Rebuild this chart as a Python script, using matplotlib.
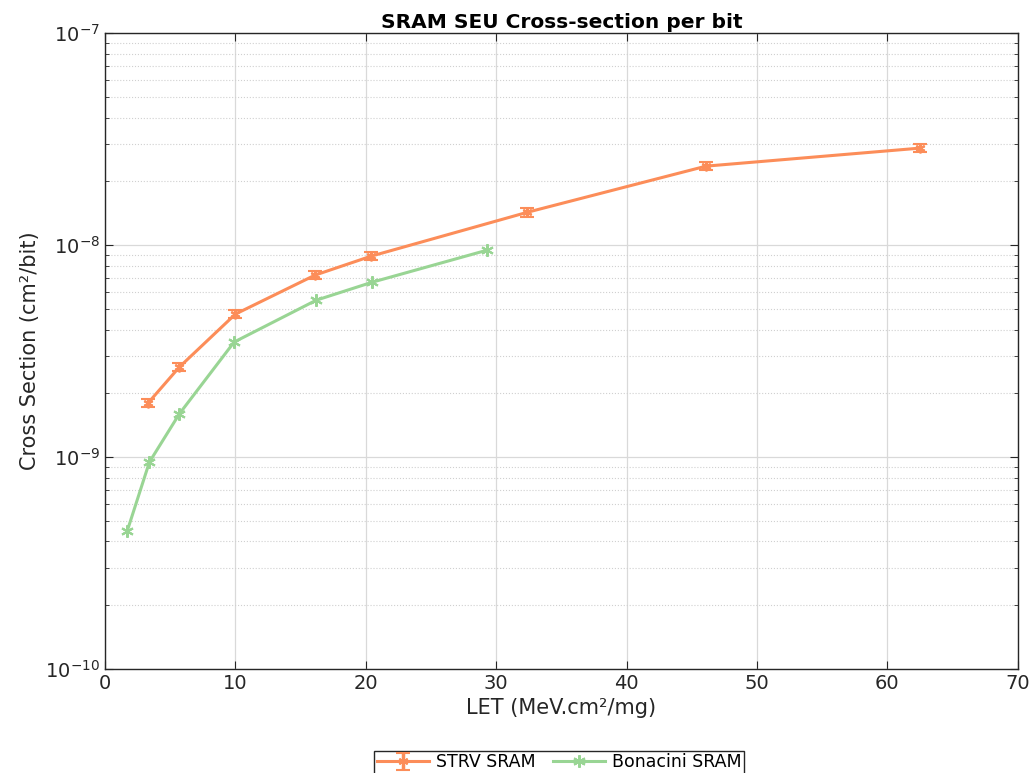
import numpy as np
import matplotlib.pyplot as plt
from matplotlib.ticker import LogLocator, NullFormatter

# data
strv_let = [3.3, 5.7, 10.0, 16.1, 20.4, 32.4, 46.1, 62.5]
strv_xs = [1.80e-9, 2.66e-9, 4.73e-9, 7.22e-9, 8.87e-9, 1.43e-8, 2.36e-8, 2.87e-8]
strv_err = [0.08e-9, 0.12e-9, 0.22e-9, 0.33e-9, 0.40e-9, 0.65e-9, 1.05e-9, 1.3e-9]

bon_let = [1.7, 3.4, 5.7, 9.9, 16.2, 20.5, 29.3]
bon_xs = [4.48e-10, 9.47e-10, 1.60e-9, 3.49e-9, 5.50e-9, 6.69e-9, 9.47e-9]

orange = '#fc8d59'
green = '#99d594'
asterisk = (6, 2, 0)

fig = plt.figure(figsize=(10.3, 7.73), dpi=100)
ax = fig.add_axes([0.102, 0.1345, 0.886, 0.8225])

h1 = ax.errorbar(strv_let, strv_xs, yerr=strv_err, color=orange, lw=2.2,
                 marker=asterisk, ms=7, mew=1.5, capsize=5, capthick=2.5,
                 elinewidth=2.5, label='STRV SRAM')
h2, = ax.plot(bon_let, bon_xs, color=green, lw=2.2, marker=asterisk, ms=9,
              mew=1.5, label='Bonacini SRAM')

ax.set_yscale('log')
ax.set_xlim(0, 70)
ax.set_ylim(1e-10, 1e-7)
ax.set_xticks(range(0, 71, 10))
ax.yaxis.set_minor_locator(LogLocator(base=10, subs=np.arange(2, 10)))
ax.yaxis.set_minor_formatter(NullFormatter())

ax.grid(True, which='major', color='#d9d9d9', lw=0.9, ls='-')
ax.grid(True, which='minor', axis='y', color='#d0d0d0', lw=0.8, ls=':')
ax.set_axisbelow(True)

ax.tick_params(which='both', direction='in', top=True, right=True,
               labelsize=14, colors='#262626')
ax.tick_params(which='major', length=6)
ax.tick_params(which='minor', length=3)
for sp in ax.spines.values():
    sp.set_color('#262626')
    sp.set_linewidth(1.0)

ax.set_title('SRAM SEU Cross-section per bit', fontsize=14.5, fontweight='bold', pad=4)
ax.set_xlabel('LET (MeV.cm²/mg)', fontsize=15, color='#262626')
ax.set_ylabel('Cross Section (cm²/bit)', fontsize=15, color='#262626')

leg = fig.legend([h1, h2], ['STRV SRAM', 'Bonacini SRAM'],
                 loc='upper center', bbox_to_anchor=(0.543, 0.04), ncol=2,
                 fontsize=12.5, fancybox=False, edgecolor='#262626',
                 handlelength=3, columnspacing=1.0, handletextpad=0.4,
                 borderpad=0.15, framealpha=1)
leg.get_frame().set_linewidth(1.0)

fig.savefig('out.png', dpi=100)
